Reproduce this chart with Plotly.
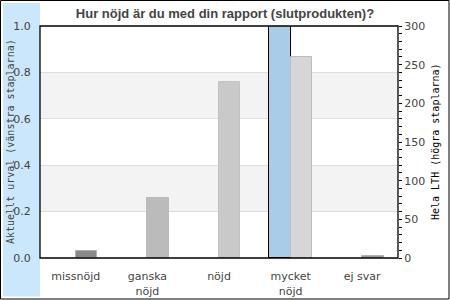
import plotly.graph_objects as go

categories = ["missnöjd", "ganska<br>nöjd", "nöjd", "mycket<br>nöjd", "ej svar"]
aktuellt_urval = [0, 0, 0, 1.0, 0]
hela_lth = [9, 78, 228, 260, 3]
hela_colors = ["#8a8a8a", "#bbbbbb", "#c9c9c9", "#d6d6d6", "#9a9a9a"]
hela_borders = ["#b0b0b0", "#bbbbbb", "#c2c2c2", "#bdbdbd", "#b0b0b0"]
left_ticks = [0.0, 0.2, 0.4, 0.6, 0.8, 1.0]
right_ticks = [0, 50, 100, 150, 200, 250, 300]

W, H = 450, 300
L, R, T, B = 40, 52, 26, 42
pw, ph = W - L - R, H - T - B

def px(x):
    return (x - L) / pw

def py(y):
    return (H - B - y) / ph

fig = go.Figure()
fig.add_trace(go.Bar(
    x=categories, y=aktuellt_urval, yaxis="y",
    width=0.3, offset=-0.3,
    marker=dict(color="#a9cde9",
                line=dict(color="black", width=[1 if v else 0 for v in aktuellt_urval])),
    name="Aktuellt urval", showlegend=False,
))
fig.add_trace(go.Bar(
    x=categories, y=hela_lth, yaxis="y2",
    width=0.3, offset=0,
    marker=dict(color=hela_colors, line=dict(color=hela_borders, width=1)),
    name="Hela LTH", showlegend=False,
))

shapes = [
    dict(type="rect", xref="paper", yref="paper", x0=px(0.5), x1=px(449), y0=py(0.5), y1=py(299),
         line=dict(color="black", width=1), fillcolor="rgba(0,0,0,0)", layer="below"),
    dict(type="rect", xref="paper", yref="paper", x0=px(3), x1=px(40), y0=py(3), y1=py(296.5),
         line=dict(width=0), fillcolor="#cbe7fb", layer="below"),
    dict(type="rect", xref="paper", yref="y", x0=0, x1=1, y0=0.2, y1=0.4,
         line=dict(width=0), fillcolor="#f3f3f3", layer="below"),
    dict(type="rect", xref="paper", yref="y", x0=0, x1=1, y0=0.6, y1=0.8,
         line=dict(width=0), fillcolor="#f3f3f3", layer="below"),
    dict(type="rect", xref="paper", yref="paper", x0=0, x1=1, y0=0, y1=1,
         line=dict(color="black", width=1.3), fillcolor="rgba(0,0,0,0)", layer="above"),
]

fig.update_layout(
    width=W, height=H,
    margin=dict(l=L, r=R, t=T, b=B, pad=0, autoexpand=False),
    paper_bgcolor="white", plot_bgcolor="white",
    font=dict(family="DejaVu Sans", size=11, color="#444"),
    bargap=0,
    shapes=shapes,
    title=dict(text="<b>Hur nöjd är du med din rapport (slutprodukten)?</b>",
               x=0.5, xref="container", xanchor="center",
               y=1 - 13 / H, yref="container", yanchor="middle",
               font=dict(family="Liberation Sans", size=13, color="#444")),
    xaxis=dict(range=[-0.5, 4.5], showgrid=False, zeroline=False, automargin=False,
               ticks="outside", ticklen=8, tickcolor="rgba(0,0,0,0)",
               tickfont=dict(size=11, color="#444")),
    yaxis=dict(range=[0, 1], tickvals=left_ticks, ticktext=[f"{v:.1f}" for v in left_ticks],
               showgrid=True, gridcolor="#dddddd", gridwidth=1, zeroline=False, automargin=False,
               ticks="outside", ticklen=6, tickcolor="rgba(0,0,0,0)",
               tickfont=dict(size=11, color="#444")),
    yaxis2=dict(range=[0, 300], overlaying="y", side="right", tickvals=right_ticks,
                showgrid=False, zeroline=False, automargin=False,
                ticks="outside", ticklen=3, tickcolor="black",
                minor=dict(dtick=10, ticks="outside", ticklen=3, tickcolor="black", showgrid=False),
                tickfont=dict(size=11, color="#444")),
    annotations=[
        dict(text="Aktuellt urval (vänstra staplarna)", textangle=-90,
             xref="paper", yref="paper", x=px(10), y=0.5, xanchor="center", yanchor="middle",
             showarrow=False, font=dict(family="DejaVu Sans Mono", size=10, color="#444")),
        dict(text="Hela LTH (högra staplarna)", textangle=-90,
             xref="paper", yref="paper", x=px(435), y=0.5, xanchor="center", yanchor="middle",
             showarrow=False, font=dict(family="DejaVu Sans Mono", size=10, color="black")),
    ],
)

fig.write_html("out.html")
